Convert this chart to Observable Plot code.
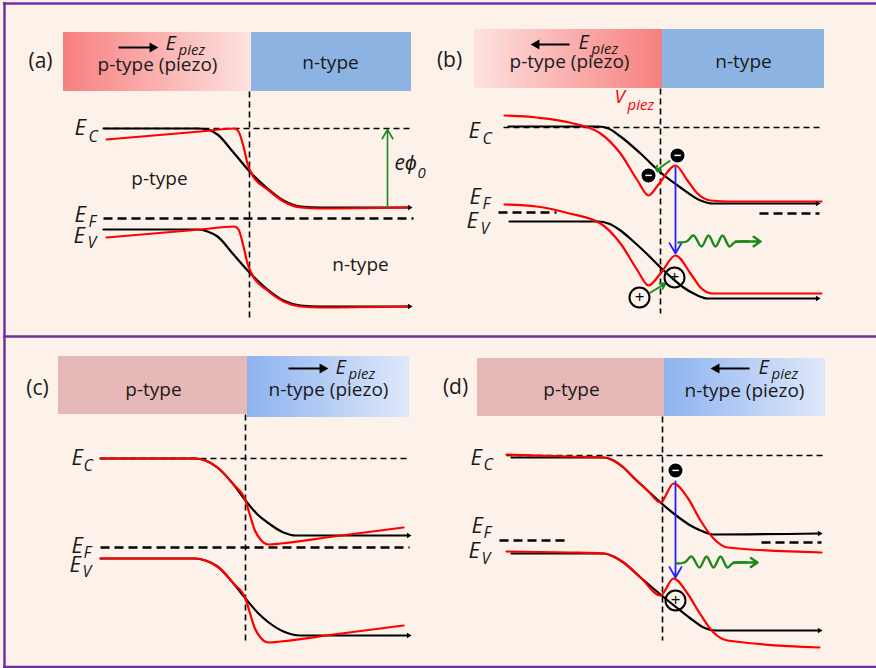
<!DOCTYPE html>
<html><head><meta charset="utf-8">
<script src="https://cdn.jsdelivr.net/npm/d3@7"></script>
<script src="https://cdn.jsdelivr.net/npm/@observablehq/plot@0.6"></script>
<style>body{margin:0;background:#fdf2e9;overflow:hidden}</style>
</head><body><div id="chart"></div>
<script>
// ---------- frame lines ----------
const frameH = [{y:3,x1:3,x2:876},{y:336,x1:3,x2:876},{y:666.5,x1:3,x2:876}];
const frameV = [{x:4,y1:2,y2:668}];

// ---------- header boxes ----------
const headerBoxes = [
  {x1:63, x2:251, y1:32,  y2:91},   // a p (piezo)
  {x1:251,x2:411, y1:32,  y2:91},   // a n
  {x1:474,x2:662, y1:29,  y2:88},   // b p (piezo)
  {x1:662,x2:824, y1:29,  y2:88},   // b n
  {x1:58, x2:247, y1:356, y2:414},  // c p
  {x1:247,x2:409, y1:356, y2:417},  // c n (piezo)
  {x1:477,x2:664, y1:358, y2:416},  // d p
  {x1:664,x2:825, y1:358, y2:416}   // d n (piezo)
];
const headerFills = ["url(#gPR)","#8db3e2","url(#gPL)","#8db3e2","#e6b8b7","url(#gN)","#e6b8b7","url(#gN)"];

// ---------- dashed reference lines ----------
const thinDash = [
  {x1:103,y1:128,x2:412,y2:128},{x1:249,y1:91,x2:249,y2:317},
  {x1:503,y1:127,x2:821,y2:127},{x1:660,y1:88,x2:660,y2:313},
  {x1:100,y1:458,x2:407,y2:458},{x1:245,y1:414,x2:245,y2:640},
  {x1:506,y1:455,x2:823,y2:455},{x1:662,y1:416,x2:662,y2:640}
];
const fermiDash = [
  {x1:103,y1:218,x2:413,y2:218},
  {x1:498,y1:212,x2:556,y2:212},{x1:759,y1:213,x2:819,y2:213},
  {x1:100,y1:547,x2:409,y2:547},
  {x1:499,y1:540,x2:566,y2:540},{x1:761,y1:542,x2:821,y2:542}
];

// ---------- band curves ----------
const aEcBlack = [[103,128],[198,128],[207,129],[217,134],[233,152],[250,172],[267,188],[283,200],[300,206],[320,207],[408,207]];
const aEcRed   = [[106,139],[200,131],[234,128],[238,131],[243,146],[247,163],[252,175],[267,189],[283,201],[300,207],[320,208],[408,207]];
const aEvBlack = [[103,229],[198,229],[207,231],[217,236],[233,254],[250,273],[267,289],[283,300],[300,305],[320,306],[408,306]];
const aEvRed   = [[106,237],[200,229],[234,226],[238,229],[243,246],[247,263],[252,275],[267,290],[283,301],[300,306],[320,307],[408,306]];

const bEcBlack = [[508,126],[598,126],[608,128],[620,136],[640,153],[660,172],[680,187],[700,200],[712,203],[816,203]];
const bEcRed   = [[504,115],[536,117],[569,122],[600,133],[620,153],[637,180],[648,195],[658,184],[675,165],[687,180],[697,193],[710,200],[730,201],[821,201]];
const bEvBlack = [[509,221],[598,221],[608,223],[620,230],[633,241],[647,254],[660,267],[672,278],[683,287],[695,294],[707,298],[816,298]];
const bEvRed   = [[504,204],[536,206],[569,213],[600,223],[620,243],[637,270],[648,285],[660,273],[675,255],[690,273],[700,287],[712,293],[730,293],[821,293]];

const cEcBlack = [[100,458],[195,458],[205,460],[217,467],[233,484],[245,500],[257,514],[267,522],[283,532],[295,535],[407,535]];
const cEcRed   = [[100,458],[195,458],[205,460],[217,467],[233,484],[245,500],[249,513],[254,529],[260,539],[268,544],[280,543],[333,536],[403,527]];
const cEvBlack = [[100,558],[195,558],[205,560],[217,566],[233,583],[245,598],[257,612],[267,621],[283,631],[300,635],[407,635]];
const cEvRed   = [[100,558],[195,558],[205,560],[217,566],[233,583],[245,598],[249,611],[254,627],[260,637],[268,642],[280,641],[333,634],[403,625]];

const dEcBlack = [[511,457],[603,457],[613,460],[623,467],[633,477],[647,490],[660,502],[677,516],[690,525],[700,530],[713,534],[818,533]];
const dEcRed   = [[506,454],[569,456],[603,457],[613,460],[623,467],[633,477],[647,490],[660,502],[673,483],[687,497],[700,520],[713,538],[727,547],[821,552]];
const dEvBlack = [[511,553],[603,553],[613,556],[623,562],[640,577],[660,594],[676,607],[690,618],[703,627],[715,630],[818,630]];
const dEvRed   = [[506,551],[569,552],[603,553],[613,556],[623,562],[640,577],[660,595],[673,578],[687,593],[700,614],[713,632],[727,640],[819,647]];

const blackCurves = {aEcBlack,aEvBlack,bEcBlack,bEvBlack,cEcBlack,cEvBlack,dEcBlack,dEvBlack};
const redCurves   = {aEcRed,aEvRed,bEcRed,bEvRed,cEcRed,cEvRed,dEcRed,dEvRed};
const tips = [[409,207],[409,306],[817,203],[817,298],[408,535],[408,635],[819,533],[819,630]];

// ---------- carriers & transitions ----------
const electrons = [[677,155],[648,175],[675,470]];
const holes = [[674,277],[639,297],[675,600]];
const blueArrows = [{x1:675,y1:167,x2:675,y2:253},{x1:675,y1:481,x2:675,y2:577}];
const greenArrows = [{x1:387,y1:207,x2:387,y2:129},{x1:670,y1:160,x2:654,y2:171},{x1:650,y1:292,x2:665,y2:283}];
const waveStarts = [[678,242],[676,563]];
const waveShape = [[0,0],[8,-1],[15,-7],[23,4],[30,-7],[37,4],[44,-7],[51,4],[56,0],[62,-1],[70,-1]];
const photonHeads = [{x1:735,y1:241,x2:760,y2:241},{x1:733,y1:562,x2:757,y2:562}];

// ---------- header piezo-field arrows ----------
const fieldArrows = [{x1:118,x2:152,y:47,dir:90},{x1:569,x2:536,y:44,dir:-90},{x1:288,x2:322,y:368,dir:90},{x1:749,x2:716,y:368,dir:-90}];

// ---------- texts ----------
const panelLabels = [["(a)",40,61],["(b)",449,60],["(c)",37,388],["(d)",455,387]];
const headerTexts = [["p-type (piezo)",157,64],["n-type",330,62],["p-type (piezo)",569,61],["n-type",743,61],
                     ["p-type",153,389],["n-type (piezo)",328,389],["p-type",571,389],["n-type (piezo)",744,390]];
const regionTexts = [["p-type",159,178],["n-type",360,264]];
const bigE = [[74,127.5],[74,214],[73,235],[468,130],[469,196],[466,220],[71,457],[71,545],[69,564],[470,457],[471,525],[468,550]];
const subE = [["C",88,136],["F",88,221],["V",87,242],["C",482,138],["F",482,203],["V",480,228],
              ["C",83,465],["F",83,552],["V",82,571],["C",483,464],["F",483,532],["V",481,558]];
const piezE = [[165,43],[578,42],[335,367],[758,367]];
const piezSub = [[178,50],[591,49],[348,374],[771,374]];

const rows = (obj) => Object.entries(obj).flatMap(([id,pts]) => pts.map(([x,y]) => ({id,x,y})));
const waveRows = waveStarts.flatMap(([sx,sy],i) => waveShape.map(([dx,dy]) => ({id:i,x:sx+dx,y:sy+dy})));
const green = "#1a8a1a";
const ink = "#1a1a1a";

const plot = Plot.plot({
  width:876, height:668, margin:0,
  x:{domain:[0,876], range:[0,876], axis:null},
  y:{domain:[0,668], range:[0,668], axis:null},
  style:{background:"#fdf2e9", fontFamily:"'Open Sans', sans-serif"},
  marks:[
    ...headerBoxes.map((b,i) => Plot.rect([b], {x1:"x1",x2:"x2",y1:"y1",y2:"y2",fill:headerFills[i]})),
    Plot.ruleY(frameH, {y:"y", x1:"x1", x2:"x2", stroke:"#7030a0", strokeWidth:2.5}),
    Plot.ruleX(frameV, {x:"x", y1:"y1", y2:"y2", stroke:"#7030a0", strokeWidth:2.5}),
    Plot.link(thinDash, {x1:"x1",y1:"y1",x2:"x2",y2:"y2", stroke:"black", strokeWidth:1.6, strokeDasharray:"6,4"}),
    Plot.link(fermiDash, {x1:"x1",y1:"y1",x2:"x2",y2:"y2", stroke:"black", strokeWidth:2.6, strokeDasharray:"9,5"}),
    Plot.line(rows(blackCurves), {x:"x", y:"y", z:"id", stroke:"black", strokeWidth:2.2, curve:"monotone-x"}),
    Plot.line(rows(redCurves), {x:"x", y:"y", z:"id", stroke:"#ff0000", strokeWidth:2.2, curve:"monotone-x"}),
    Plot.dot(tips, {x:d=>d[0], y:d=>d[1], symbol:"triangle", rotate:90, r:2, fill:"black"}),
    // field arrows in headers
    Plot.link(fieldArrows, {x1:"x1", x2:"x2", y1:"y", y2:"y", stroke:"black", strokeWidth:1.8}),
    Plot.dot(fieldArrows, {x:"x2", y:"y", rotate:"dir", symbol:"triangle", r:3.8, fill:"black"}),
    // transitions
    Plot.arrow(greenArrows.slice(0,1), {x1:"x1",y1:"y1",x2:"x2",y2:"y2", stroke:green, strokeWidth:1.6, headLength:10}),
    Plot.arrow(greenArrows.slice(1), {x1:"x1",y1:"y1",x2:"x2",y2:"y2", stroke:green, strokeWidth:2, headLength:6}),
    Plot.arrow(blueArrows, {x1:"x1",y1:"y1",x2:"x2",y2:"y2", stroke:"#1f1fff", strokeWidth:1.8, headLength:10}),
    Plot.line(waveRows, {x:"x", y:"y", z:"id", stroke:green, strokeWidth:2.4, curve:"catmull-rom"}),
    Plot.arrow(photonHeads, {x1:"x1",y1:"y1",x2:"x2",y2:"y2", stroke:green, strokeWidth:2.4, headLength:11, headAngle:70}),
    // carriers
    Plot.dot(electrons, {x:d=>d[0], y:d=>d[1], r:8, fill:"black", stroke:"white", strokeWidth:2}),
    Plot.text(electrons, {x:d=>d[0], y:d=>d[1], text:()=>"−", fill:"white", fontSize:13, fontWeight:"bold"}),
    Plot.dot(holes, {x:d=>d[0], y:d=>d[1], r:10, fill:"none", stroke:"black", strokeWidth:2}),
    Plot.text(holes, {x:d=>d[0], y:d=>d[1], text:()=>"+", fill:"black", fontSize:17}),
    // texts
    Plot.text(panelLabels, {x:d=>d[1], y:d=>d[2], text:d=>d[0], fontSize:21, fill:ink}),
    Plot.text(headerTexts, {x:d=>d[1], y:d=>d[2], text:d=>d[0], fontSize:19, fill:ink}),
    Plot.text(regionTexts, {x:d=>d[1], y:d=>d[2], text:d=>d[0], fontSize:19, fill:ink}),
    Plot.text(bigE, {x:d=>d[0], y:d=>d[1], text:()=>"E", fontSize:22, fontStyle:"italic", textAnchor:"start", fill:ink}),
    Plot.text(subE, {x:d=>d[1], y:d=>d[2], text:d=>d[0], fontSize:16, fontStyle:"italic", textAnchor:"start", fill:ink}),
    Plot.text(piezE, {x:d=>d[0], y:d=>d[1], text:()=>"E", fontSize:20, fontStyle:"italic", textAnchor:"start", fill:ink}),
    Plot.text(piezSub, {x:d=>d[0], y:d=>d[1], text:()=>"piez", fontSize:15, fontStyle:"italic", textAnchor:"start", fill:ink}),
    Plot.text([[394,163]], {x:d=>d[0], y:d=>d[1], text:()=>"eϕ", fontSize:21, fontStyle:"italic", textAnchor:"start", fill:ink}),
    Plot.text([[417,173]], {x:d=>d[0], y:d=>d[1], text:()=>"0", fontSize:15, fontStyle:"italic", textAnchor:"start", fill:ink}),
    Plot.text([[614,96]], {x:d=>d[0], y:d=>d[1], text:()=>"V", fontSize:19, fontStyle:"italic", textAnchor:"start", fill:"#ff0000"}),
    Plot.text([[627,105]], {x:d=>d[0], y:d=>d[1], text:()=>"piez", fontSize:15, fontStyle:"italic", textAnchor:"start", fill:"#ff0000"})
  ]
});

// gradients for header boxes
const defs = d3.select(plot).insert("defs", ":first-child");
function grad(id, c0, c1){
  const g = defs.append("linearGradient").attr("id", id).attr("x1","0").attr("x2","1").attr("y1","0").attr("y2","0");
  g.append("stop").attr("offset","0").attr("stop-color", c0);
  g.append("stop").attr("offset","1").attr("stop-color", c1);
}
grad("gPR", "#f77f7f", "#fde2e0");
grad("gPL", "#fde2e0", "#f77f7f");
grad("gN", "#8db3ef", "#dfe8fa");

document.getElementById("chart").appendChild(plot);
</script></body></html>
